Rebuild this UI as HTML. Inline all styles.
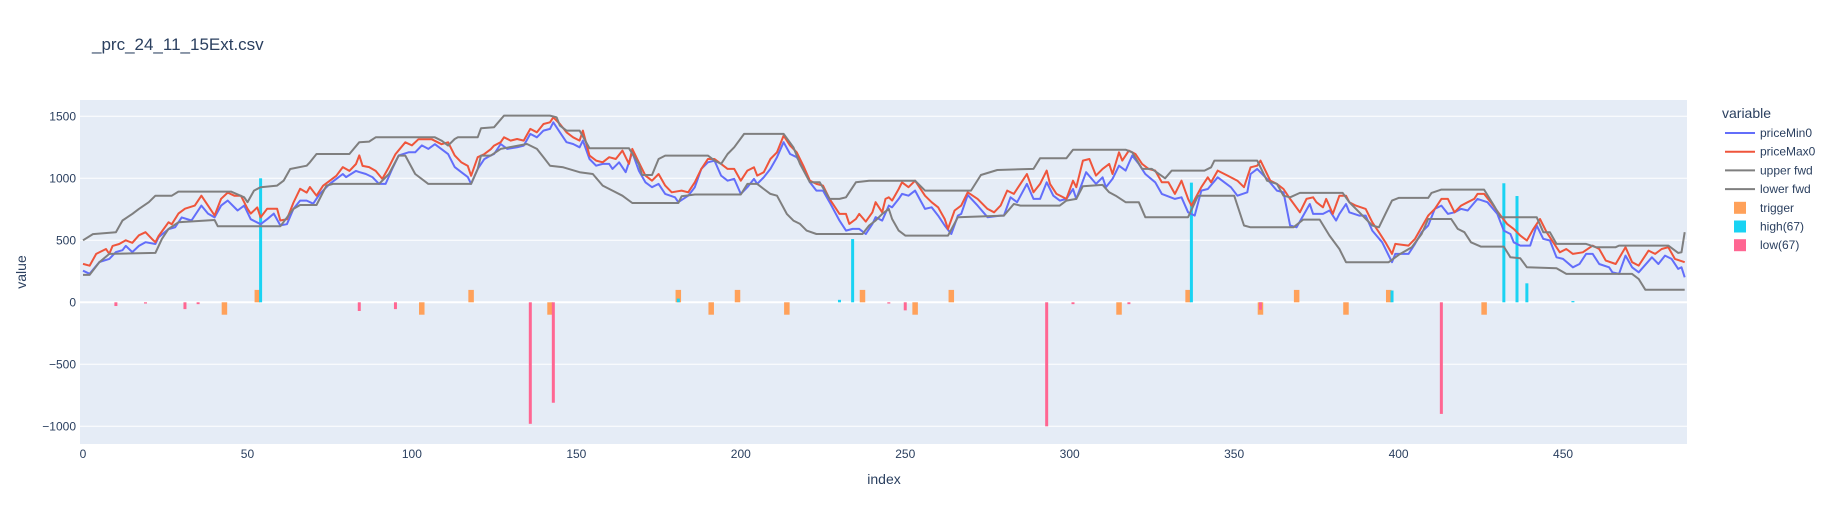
<!DOCTYPE html>
<html><head><meta charset="utf-8"><style>
body{margin:0;background:#fff;}
svg text{font-family:"Liberation Sans",Arial,sans-serif;fill:#2a3f5f;}
</style></head><body>
<svg id="chart" width="1832" height="525" xmlns="http://www.w3.org/2000/svg">
<rect x="0" y="0" width="1832" height="525" fill="#fff"/>
<text x="92" y="50" font-size="17">_prc_24_11_15Ext.csv</text>
<rect x="80" y="100" width="1607" height="344" fill="#e5ecf6"/>
<g id="grid"></g>
<g id="bars"></g>
<g id="lines"></g>
<g id="axes"></g>
<text x="884" y="484" font-size="14" text-anchor="middle">index</text>
<text transform="translate(26,272) rotate(-90)" font-size="14" text-anchor="middle">value</text>
<g id="legend">
<text x="1722" y="118" font-size="14">variable</text>
</g>
</svg>
<script>
const yTicks=[1500,1000,500,0,-500,-1000];
const xTicks=[0,50,100,150,200,250,300,350,400,450];
const minIdx=[0,2,5,8,10,12,13,15,17,19,22,23,26,28,30,33,36,38,40,42,44,47,49,51,54,56,58,60,62,64,66,68,70,72,75,77,79,80,83,84,86,88,90,92,94,96,99,101,103,105,107,111,113,115,117,118,120,122,124,125,127,129,132,134,136,138,140,142,143,145,147,149,151,152,154,156,158,160,161,163,165,167,169,171,173,175,177,180,181,184,186,188,190,192,194,196,198,200,202,204,205,207,209,211,213,215,217,219,221,223,225,227,230,232,234,236,238,240,241,243,245,246,248,249,251,253,256,258,260,262,264,266,267,269,272,275,279,280,282,284,287,289,291,293,295,297,299,301,302,305,308,310,311,313,315,317,319,321,323,326,328,332,334,336,338,340,342,345,349,351,354,355,357,360,363,365,367,369,371,373,374,377,379,381,382,384,385,388,390,392,395,398,399,403,405,407,409,411,413,415,417,419,421,424,427,430,432,434,435,437,440,442,444,446,448,450,453,455,457,459,461,464,465,467,469,471,473,477,479,481,483,485,486,487];
const minVal=[255,230,325,350,405,420,455,405,455,485,470,525,590,605,685,660,780,715,685,780,820,740,780,670,630,670,715,620,630,755,820,820,795,875,955,995,1035,1010,1060,1050,1035,1010,955,955,1075,1185,1210,1210,1265,1237,1275,1195,1090,1050,1010,955,1075,1155,1185,1196,1277,1237,1250,1264,1358,1331,1385,1398,1452,1371,1291,1277,1250,1304,1156,1102,1116,1116,1076,1129,1049,1210,1062,968,928,955,874,847,807,860,928,1076,1129,1143,1022,981,995,874,928,995,955,1008,1076,1170,1291,1196,1170,1089,968,901,901,807,659,578,592,592,551,632,686,659,780,766,834,874,860,901,753,766,699,619,551,699,713,866,780,686,699,699,847,807,955,834,834,968,860,820,834,914,834,1049,955,1008,928,995,1102,1062,1183,1116,1035,968,874,834,847,726,699,901,914,1008,928,860,887,1035,1076,995,901,887,619,605,699,793,713,713,740,659,713,793,726,699,699,578,484,323,390,390,471,565,619,753,780,713,726,753,740,834,807,713,578,551,484,457,457,619,511,498,363,350,282,309,390,390,309,282,242,229,377,282,242,363,309,377,350,269,282,202];
const maxIdx=[0,2,4,7,8,9,11,13,15,17,19,21,22,23,26,27,29,31,34,36,38,40,42,44,46,48,50,51,53,54,56,59,60,62,64,66,68,69,71,73,75,77,79,81,83,84,85,87,89,91,93,95,98,100,102,106,109,111,113,115,117,118,120,122,124,125,127,128,130,132,134,136,138,140,142,143,145,147,149,151,152,154,156,158,160,162,164,166,167,169,171,173,175,177,179,182,184,186,188,190,192,194,196,198,200,202,204,205,207,209,211,213,215,217,219,221,223,225,227,230,232,233,235,236,238,240,241,243,244,245,246,248,249,251,253,256,258,260,262,263,265,267,269,272,275,277,279,281,283,286,287,289,291,293,294,296,299,301,302,304,306,308,310,312,313,315,316,318,320,322,324,326,328,330,332,334,336,337,340,342,343,345,348,351,353,355,357,358,361,363,365,367,370,372,374,375,377,378,380,382,384,385,387,390,392,394,396,398,399,403,405,407,409,411,413,415,417,419,421,423,424,426,428,431,433,435,437,439,441,443,445,447,449,451,453,456,459,461,463,466,469,471,473,476,478,480,482,484,487];
const maxVal=[310,295,390,430,390,455,470,500,480,540,565,510,485,535,645,630,715,755,780,860,780,700,835,885,860,860,755,715,765,685,755,755,660,670,805,915,885,930,860,940,980,1020,1090,1060,1115,1185,1100,1090,1060,995,1090,1195,1290,1265,1315,1315,1275,1290,1185,1130,1100,1020,1170,1195,1235,1264,1291,1331,1304,1317,1304,1398,1371,1438,1452,1492,1438,1371,1331,1304,1385,1183,1143,1129,1170,1156,1223,1116,1237,1129,1022,981,1035,941,887,901,887,968,1076,1156,1156,1116,1076,1076,981,1062,1089,1022,1049,1156,1210,1344,1264,1210,1102,981,955,941,834,713,713,632,672,713,651,726,807,726,834,847,820,914,968,928,981,860,807,766,672,592,740,780,887,834,753,726,780,901,874,995,1035,887,955,1062,955,874,834,981,928,1143,1156,1022,1076,1116,1035,1210,1143,1223,1196,1116,1076,1062,968,968,874,981,834,780,928,1008,968,1062,1022,981,928,1089,1102,1143,981,955,914,834,726,834,847,807,766,834,713,860,860,807,780,753,645,565,484,390,471,457,511,605,699,753,834,834,726,780,807,834,874,874,807,699,632,592,538,498,592,672,565,484,403,430,390,403,457,430,336,309,444,323,296,417,390,430,444,350,323];
const upIdx=[0,3,10,12,15,17,20,22,27,29,45,49,50,52,54,59,61,63,68,69,71,81,84,87,89,107,109,111,113,114,120,121,125,128,142,144,145,147,151,154,166,169,170,173,175,177,190,192,194,196,198,201,213,216,218,221,224,227,230,232,235,239,246,253,256,270,273,278,289,291,299,301,317,319,322,325,329,331,341,343,344,357,360,363,365,367,370,383,385,392,394,396,398,400,409,410,413,426,429,431,442,444,446,448,457,460,466,467,482,485,486,487];
const upVal=[500,550,565,660,713,753,807,860,860,893,893,847,807,901,928,941,981,1075,1102,1129,1196,1196,1291,1296,1331,1331,1304,1264,1317,1331,1331,1403,1412,1506,1506,1492,1425,1385,1385,1242,1242,1116,1027,1027,1156,1183,1183,1143,1116,1196,1250,1358,1358,1250,1116,968,968,834,834,847,968,981,981,981,901,901,1027,1067,1076,1162,1162,1231,1231,1210,1076,1076,1000,1062,1062,1089,1143,1143,981,955,860,847,882,882,807,619,605,713,820,842,842,882,909,909,780,686,686,565,565,471,471,444,444,457,457,398,403,565];
const loIdx=[0,2,5,8,22,24,26,29,40,41,60,64,66,71,74,76,90,93,96,98,101,105,118,120,121,124,127,135,138,140,142,146,151,155,158,161,164,167,181,182,186,200,202,205,207,209,211,214,216,218,220,223,237,239,241,243,245,246,248,250,263,266,280,283,285,297,299,302,304,310,312,314,317,321,323,336,339,350,353,355,368,371,376,379,382,384,397,400,404,407,409,416,418,420,422,425,432,434,437,439,448,451,471,473,475,487];
const loVal=[221,221,323,390,398,511,592,645,664,613,613,753,785,785,941,955,955,1035,1183,1183,1035,955,955,1075,1183,1183,1237,1277,1237,1170,1102,1089,1049,1035,941,901,860,801,801,855,869,869,955,955,914,874,860,713,659,632,578,551,551,619,659,713,753,672,578,538,538,686,699,793,780,780,820,834,936,947,887,860,807,807,686,686,860,860,619,605,605,667,667,538,430,323,323,382,444,551,672,672,592,565,484,449,449,363,355,282,274,229,229,188,102,102];
const trigIdx=[43,53,103,118,142,181,191,199,214,237,253,264,315,336,358,369,384,397,426];
const trigVal=[-100,100,-100,100,-100,100,-100,100,-100,100,-100,100,-100,100,-100,100,-100,100,-100];
const highIdx=[54,181,230,234,337,398,432,436,439,453];
const highVal=[1000,30,20,510,965,95,960,857,153,10];
const lowIdx=[10,19,31,35,84,95,136,143,245,250,293,301,318,358,413];
const lowVal=[-30,-10,-55,-15,-70,-55,-980,-810,-10,-65,-1000,-15,-15,-60,-900];

const NS='http://www.w3.org/2000/svg';
const X0=80,X1=1687,Y0=100,Y1=444;
function xs(i){return 83+i*3.289;}
function ys(v){return 302.3-v*0.124;}
function mk(tag,attrs,parent){const e=document.createElementNS(NS,tag);for(const k in attrs)e.setAttribute(k,attrs[k]);parent.appendChild(e);return e;}
const grid=document.getElementById('grid'),axes=document.getElementById('axes');
yTicks.forEach(t=>{
  const g=mk('line',{x1:X0,x2:X1,y1:ys(t),y2:ys(t),stroke:'#fff','stroke-width':t===0?2:1},grid);
  
  
  const tx=mk('text',{x:X0-4,y:ys(t)+4,'font-size':12,'text-anchor':'end'},axes);
  tx.textContent=t<0?'\u2212'+Math.abs(t):String(t);
  
  
});
xTicks.forEach(t=>{
  const tx=mk('text',{x:xs(t),y:458,'font-size':12,'text-anchor':'middle'},axes);
  tx.textContent=String(t);
  
  
});
const bars=document.getElementById('bars');
function drawBars(idx,vals,color,w,name){
  idx.forEach((i,k)=>{
    const v=vals[k];const y=Math.min(ys(0),ys(v));const h=Math.abs(ys(v)-ys(0));
    const r=mk('rect',{x:xs(i)-w/2,y:y,width:w,height:Math.max(h,0.5),fill:color},bars);
    
    
  });
}
drawBars(trigIdx,trigVal,'#FFA15A',5.5,'trigger-bar');
drawBars(highIdx,highVal,'#19d3f3',3,'high67-bar');
drawBars(lowIdx,lowVal,'#FF6692',3,'low67-bar');
const lines=document.getElementById('lines');
function drawLine(idx,vals,color,name){
  const d=idx.map((i,k)=>(k?'L':'M')+xs(i).toFixed(1)+','+ys(vals[k]).toFixed(1)).join('');
  const p=mk('path',{d:d,fill:'none',stroke:color,'stroke-width':2,'stroke-linejoin':'round'},lines);
  
  
}
drawLine(minIdx,minVal,'#636efa','priceMin0-line');
drawLine(maxIdx,maxVal,'#EF553B','priceMax0-line');
drawLine(upIdx,upVal,'#7f7f7f','upper-fwd-line');
drawLine(loIdx,loVal,'#7f7f7f','lower-fwd-line');
const leg=document.getElementById('legend');
const names=['priceMin0','priceMax0','upper fwd','lower fwd','trigger','high(67)','low(67)'];
const cols=['#636efa','#EF553B','#7f7f7f','#7f7f7f','#FFA15A','#19d3f3','#FF6692'];
names.forEach((n,k)=>{
  const cy=133+k*18.7;
  if(k<4){const l=mk('line',{x1:1725,x2:1755,y1:cy,y2:cy,stroke:cols[k],'stroke-width':2},leg);
    
    }
  else{const r=mk('rect',{x:1734,y:cy-6,width:12,height:12,fill:cols[k]},leg);
    
    }
  const t=mk('text',{x:1760,y:cy+4,'font-size':12},leg);
  t.textContent=n;
  
  
});
</script>
</body></html>
